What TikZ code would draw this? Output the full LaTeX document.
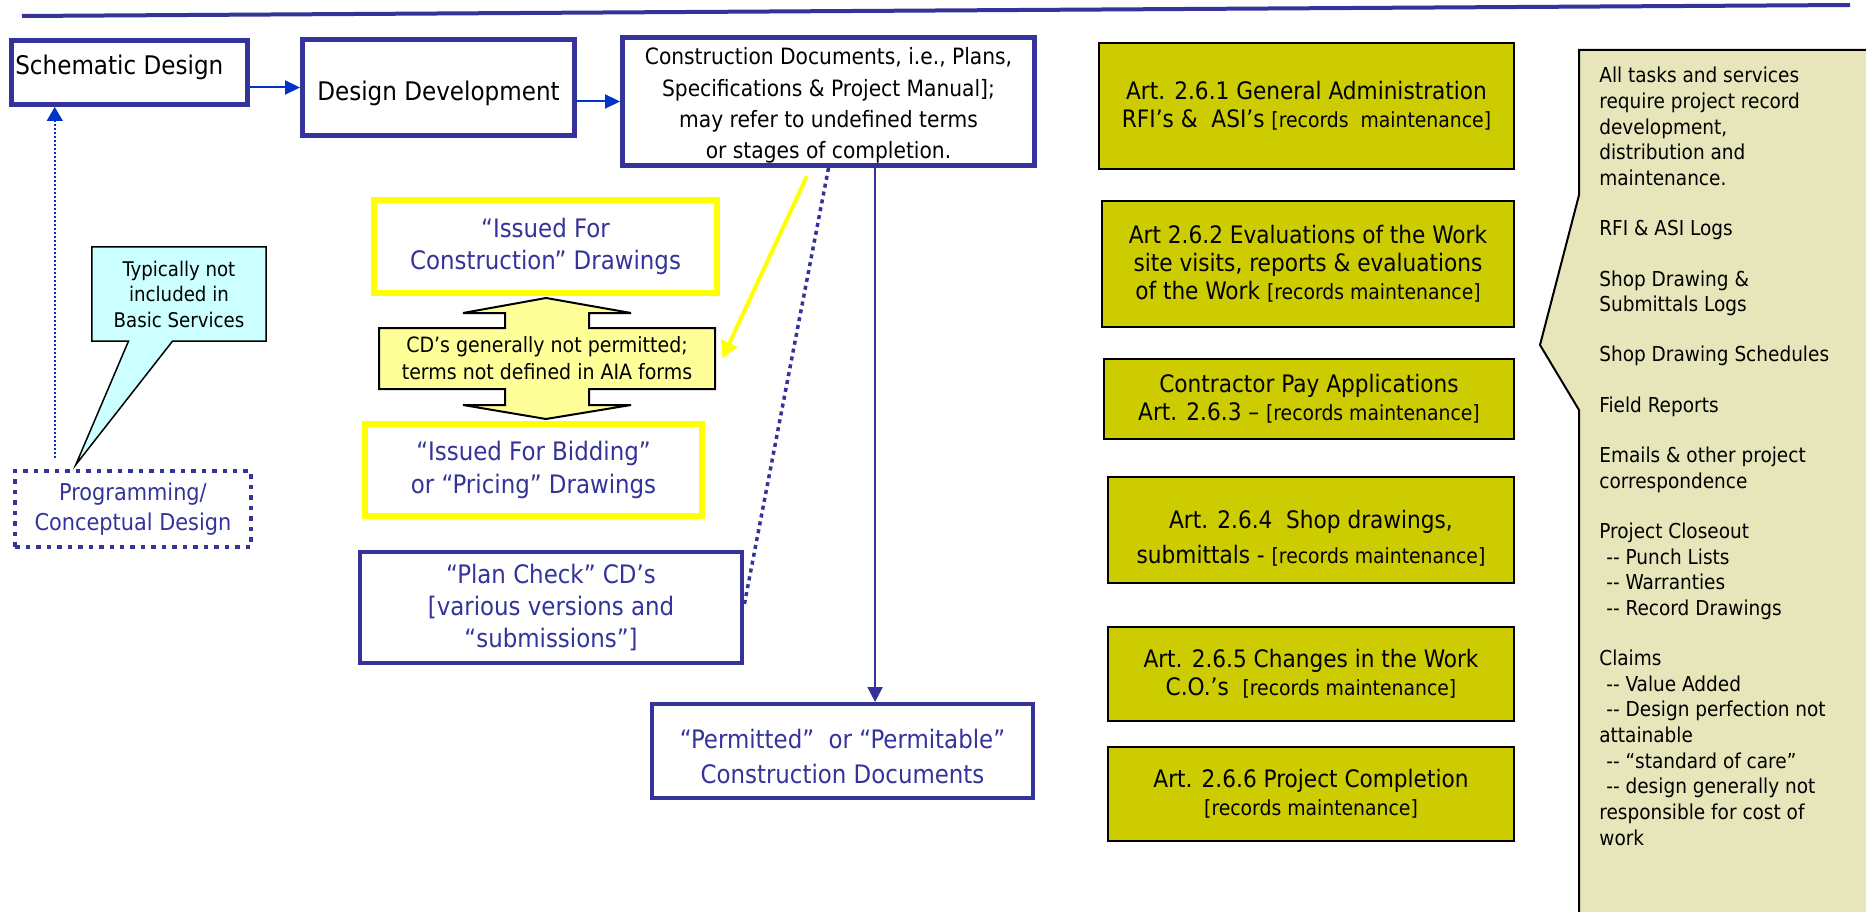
\documentclass[tikz,border=0pt]{standalone}
\usepackage{fontspec}
\setmainfont{DejaVu Sans Condensed}
\usetikzlibrary{arrows.meta,shapes.callouts}

\definecolor{navy}{RGB}{51,51,153}
\definecolor{flowblue}{RGB}{0,51,204}
\definecolor{ifcyellow}{RGB}{255,255,0}
\definecolor{noteyellow}{RGB}{255,255,153}
\definecolor{artolive}{RGB}{204,204,0}
\definecolor{tipcyan}{RGB}{204,255,255}
\definecolor{logkhaki}{RGB}{230,230,186}

\newcommand{\recm}[1]{{\fontsize{11.9}{16}\selectfont #1}}

\begin{document}
\begin{tikzpicture}
  [x=0.02cm,y=-0.02cm,
   every node/.style={inner sep=0pt,align=center},
   phase/.style={draw=navy,line width=0.1cm,fill=white,font=\fontsize{14.6}{17}\selectfont},
   cdbox/.style={draw=navy,line width=0.1cm,fill=white,font=\fontsize{12.8}{17.8}\selectfont},
   stage/.style={draw=navy,line width=0.07cm,text=navy,font=\fontsize{14.5}{18}\selectfont},
   issued/.style={draw=ifcyellow,line width=0.12cm,text=navy,font=\fontsize{14.5}{18.5}\selectfont},
   progbox/.style={draw=navy,line width=0.09cm,dash pattern=on 0.09cm off 0.12cm,text=navy,font=\fontsize{13.2}{17}\selectfont},
   article/.style={draw=black,line width=0.04cm,fill=artolive,font=\fontsize{13.7}{16}\selectfont},
   tipnote/.style={draw=black,line width=0.03cm,fill=tipcyan,font=\fontsize{11.5}{14.5}\selectfont},
   notebody/.style={draw=black,line width=0.04cm,fill=noteyellow},
   logbox/.style={draw=black,line width=0.04cm,fill=logkhaki},
   logtext/.style={align=left,font=\fontsize{11.7}{14.6}\selectfont},
   flow/.style={flowblue,line width=0.04cm,-{Triangle[length=0.3cm,width=0.28cm]}},
   navyflow/.style={navy,line width=0.04cm,-{Triangle[length=0.3cm,width=0.3cm]}},
   preflow/.style={flowblue,line width=0.03cm,dash pattern=on 0.03cm off 0.05cm,-{Triangle[length=0.28cm,width=0.32cm]}},
   planlink/.style={navy,line width=0.07cm,dash pattern=on 0.08cm off 0.08cm},
   ifcarrow/.style={ifcyellow,line width=0.08cm,-{Triangle[length=0.34cm,width=0.34cm]}}]
  \useasboundingbox (0,0) rectangle (1866,912);
  \clip (0,0) rectangle (1866,912);

  \draw[navy,line width=0.08cm] (22,16) -- (1850,5);

  % design phases
  \node[phase,minimum width=4.72cm,minimum height=1.28cm] (sd) at (129.5,72.5) {};
  \node[anchor=base west,font=\fontsize{14.6}{17}\selectfont] (sdlbl) at (15,75) {Schematic Design};
  \node[phase,minimum width=5.44cm,minimum height=1.92cm] (dd) at (438.5,87.5) {\rule{0pt}{0.64cm}Design Development};
  \node[cdbox,minimum width=8.24cm,minimum height=2.56cm] (cd) at (828.5,101.5)
    {\rule{0pt}{0.5cm}Construction Documents, i.e., Plans,\\Specifications \& Project Manual];\\may refer to undefined terms\\or stages of completion.};

  \node[progbox,minimum width=4.72cm,minimum height=1.52cm] (prog) at (133,509) {Programming/\\Conceptual Design};
  \coordinate (tiptip) at ([shift={(63,-4)}]prog.north west);
  \node[tipnote,rectangle callout,callout absolute pointer={(tiptip)},callout pointer width=0.88cm,
        minimum width=3.49cm,minimum height=1.89cm] (tip) at (179,294) {Typically not\\included in\\Basic Services};

  % drawing sets
  \filldraw[notebody] (546,298) -- (631,313) -- (589,313) -- (589,328) -- (715,328) -- (715,389)
    -- (589,389) -- (589,405) -- (631,405) -- (546,419) -- (463,405) -- (505,405) -- (505,389)
    -- (379,389) -- (379,328) -- (505,328) -- (505,313) -- (463,313) -- cycle;
  \node[minimum width=6.72cm,minimum height=1.22cm,font=\fontsize{12}{15.4}\selectfont] (cdnote) at (547,358.5)
    {CD’s generally not permitted;\\terms not defined in AIA forms};
  \node[issued,minimum width=6.86cm,minimum height=1.86cm] (ifc) at (545.5,246.5) {“Issued For\\Construction” Drawings};
  \node[issued,minimum width=6.74cm,minimum height=1.84cm] (ifb) at (533.5,470) {“Issued For Bidding”\\or “Pricing” Drawings};
  \node[stage,minimum width=7.64cm,minimum height=2.22cm] (plan) at (551,607.5)
    {“Plan Check” CD’s\\{[}various versions and\\“submissions”]};
  \node[stage,minimum width=7.63cm,minimum height=1.89cm] (perm) at (842.5,751)
    {\rule{0pt}{0.6cm}“Permitted”\ \ or “Permitable”\\[2pt]Construction Documents};

  % articles
  \foreach \nm/\cx/\cy/\w/\h/\txt in {
    a1/1306.5/106/8.30/2.52/{Art. 2.6.1 General Administration\\RFI’s \&\ \ ASI’s \recm{[records\ \ maintenance]}},
    a2/1308/264/8.24/2.52/{Art 2.6.2 Evaluations of the Work\\site visits, reports \& evaluations\\of the Work \recm{[records maintenance]}},
    a3/1309/399/8.20/1.60/{Contractor Pay Applications\\Art. 2.6.3 – \recm{[records maintenance]}},
    a4/1311/530/8.12/2.12/{\rule{0pt}{0.68cm}Art. 2.6.4\ \ Shop drawings,\\[4pt]submittals - \recm{[records maintenance]}},
    a5/1311/674/8.12/1.88/{Art. 2.6.5 Changes in the Work\\C.O.’s\ \ \recm{[records maintenance]}},
    a6/1311/794/8.12/1.88/{Art. 2.6.6 Project Completion\\\recm{[records maintenance]}}}
    \node[article,minimum width=\w cm,minimum height=\h cm] (\nm) at (\cx,\cy) {\txt};

  % record keeping
  \filldraw[logbox] (1579,50) -- (1890,50) -- (1890,930) -- (1579,930) -- (1579,410) -- (1540,345) -- (1579,195) -- cycle;
  \node[logtext,anchor=north west] (logs) at (1599,67)
    {All tasks and services\\require project record\\development,\\distribution and\\maintenance.\\[14pt]
     RFI \& ASI Logs\\[14pt]
     Shop Drawing \&\\Submittals Logs\\[14pt]
     Shop Drawing Schedules\\[14pt]
     Field Reports\\[14pt]
     Emails \& other project\\correspondence\\[14pt]
     Project Closeout\\\hspace*{4pt}-{}- Punch Lists\\\hspace*{4pt}-{}- Warranties\\\hspace*{4pt}-{}- Record Drawings\\[14pt]
     Claims\\\hspace*{4pt}-{}- Value Added\\\hspace*{4pt}-{}- Design perfection not\\attainable\\
     \hspace*{4pt}-{}- “standard of care”\\\hspace*{4pt}-{}- design generally not\\responsible for cost of\\work};

  % connectors
  \draw[flow] (sd.east |- dd.west) -- (dd.west);
  \draw[flow] (dd.east |- cd.west) -- (cd.west);
  \draw[navyflow] (cd.-55) -- (cd.-55 |- perm.north);
  \draw[planlink] (cd.south) -- (plan.east);
  \coordinate (pa) at ([shift={(42,-11)}]prog.north west);
  \draw[preflow] (pa) -- (pa |- sd.south);
  \draw[ifcarrow,shorten <=0.18cm] (cd.-105) -- ([xshift=0.14cm]cdnote.east);
\end{tikzpicture}
\end{document}
